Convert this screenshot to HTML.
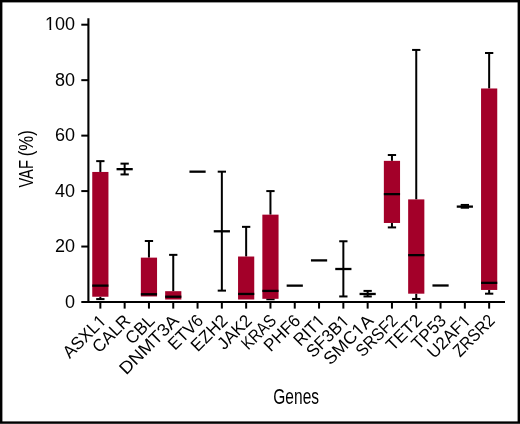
<!DOCTYPE html>
<html><head><meta charset="utf-8"><style>
html,body{margin:0;padding:0;background:#fff;}
body{width:520px;height:424px;overflow:hidden;}
svg{display:block;}
svg text{font-family:"Liberation Sans",sans-serif;fill:#000;}
.yt{font-size:18px;text-anchor:end;}
.xt{font-size:17.5px;text-anchor:end;}
.lab{font-size:21px;}
.tx{opacity:0.999;}
</style></head><body>
<svg width="520" height="424" viewBox="0 0 520 424">
<rect x="0" y="0" width="520" height="424" fill="#fff"/>
<line x1="88.4" y1="18.2" x2="88.4" y2="303.0" stroke="#000" stroke-width="2.1"/>
<line x1="81.3" y1="302.0" x2="505" y2="302.0" stroke="#000" stroke-width="2.1"/>
<line x1="81.3" y1="246.54" x2="88" y2="246.54" stroke="#000" stroke-width="2"/>
<line x1="81.3" y1="191.08" x2="88" y2="191.08" stroke="#000" stroke-width="2"/>
<line x1="81.3" y1="135.62" x2="88" y2="135.62" stroke="#000" stroke-width="2"/>
<line x1="81.3" y1="80.16" x2="88" y2="80.16" stroke="#000" stroke-width="2"/>
<line x1="81.3" y1="24.70" x2="88" y2="24.70" stroke="#000" stroke-width="2"/>
<line x1="100.35" y1="302.0" x2="100.35" y2="308.6" stroke="#000" stroke-width="2"/>
<line x1="124.65" y1="302.0" x2="124.65" y2="308.6" stroke="#000" stroke-width="2"/>
<line x1="148.95" y1="302.0" x2="148.95" y2="308.6" stroke="#000" stroke-width="2"/>
<line x1="173.25" y1="302.0" x2="173.25" y2="308.6" stroke="#000" stroke-width="2"/>
<line x1="197.55" y1="302.0" x2="197.55" y2="308.6" stroke="#000" stroke-width="2"/>
<line x1="221.85" y1="302.0" x2="221.85" y2="308.6" stroke="#000" stroke-width="2"/>
<line x1="246.15" y1="302.0" x2="246.15" y2="308.6" stroke="#000" stroke-width="2"/>
<line x1="270.45" y1="302.0" x2="270.45" y2="308.6" stroke="#000" stroke-width="2"/>
<line x1="294.75" y1="302.0" x2="294.75" y2="308.6" stroke="#000" stroke-width="2"/>
<line x1="319.05" y1="302.0" x2="319.05" y2="308.6" stroke="#000" stroke-width="2"/>
<line x1="343.35" y1="302.0" x2="343.35" y2="308.6" stroke="#000" stroke-width="2"/>
<line x1="367.65" y1="302.0" x2="367.65" y2="308.6" stroke="#000" stroke-width="2"/>
<line x1="391.95" y1="302.0" x2="391.95" y2="308.6" stroke="#000" stroke-width="2"/>
<line x1="416.25" y1="302.0" x2="416.25" y2="308.6" stroke="#000" stroke-width="2"/>
<line x1="440.55" y1="302.0" x2="440.55" y2="308.6" stroke="#000" stroke-width="2"/>
<line x1="464.85" y1="302.0" x2="464.85" y2="308.6" stroke="#000" stroke-width="2"/>
<line x1="489.15" y1="302.0" x2="489.15" y2="308.6" stroke="#000" stroke-width="2"/>
<line x1="100.35" y1="161.13" x2="100.35" y2="171.95" stroke="#000" stroke-width="2"/>
<line x1="96.20" y1="161.13" x2="104.50" y2="161.13" stroke="#000" stroke-width="2"/>
<line x1="100.35" y1="299.09" x2="100.35" y2="296.73" stroke="#000" stroke-width="2"/>
<line x1="96.20" y1="299.09" x2="104.50" y2="299.09" stroke="#000" stroke-width="2"/>
<rect x="92.25" y="171.95" width="16.2" height="124.78" fill="#a30029"/>
<line x1="92.25" y1="285.64" x2="108.45" y2="285.64" stroke="#000" stroke-width="2.3"/>
<line x1="124.65" y1="163.63" x2="124.65" y2="169.17" stroke="#000" stroke-width="2"/>
<line x1="120.50" y1="163.63" x2="128.80" y2="163.63" stroke="#000" stroke-width="2"/>
<line x1="124.65" y1="174.44" x2="124.65" y2="169.17" stroke="#000" stroke-width="2"/>
<line x1="120.50" y1="174.44" x2="128.80" y2="174.44" stroke="#000" stroke-width="2"/>
<line x1="116.55" y1="169.17" x2="132.75" y2="169.17" stroke="#000" stroke-width="2.3"/>
<line x1="148.95" y1="240.99" x2="148.95" y2="257.63" stroke="#000" stroke-width="2"/>
<line x1="144.80" y1="240.99" x2="153.10" y2="240.99" stroke="#000" stroke-width="2"/>
<rect x="140.85" y="257.63" width="16.2" height="38.82" fill="#a30029"/>
<line x1="140.85" y1="294.24" x2="157.05" y2="294.24" stroke="#000" stroke-width="2.3"/>
<line x1="173.25" y1="254.86" x2="173.25" y2="291.19" stroke="#000" stroke-width="2"/>
<line x1="169.10" y1="254.86" x2="177.40" y2="254.86" stroke="#000" stroke-width="2"/>
<rect x="165.15" y="291.19" width="16.2" height="8.32" fill="#a30029"/>
<line x1="165.15" y1="296.73" x2="181.35" y2="296.73" stroke="#000" stroke-width="2.3"/>
<line x1="189.45" y1="171.67" x2="205.65" y2="171.67" stroke="#000" stroke-width="2.3"/>
<line x1="221.85" y1="171.67" x2="221.85" y2="231.29" stroke="#000" stroke-width="2"/>
<line x1="217.70" y1="171.67" x2="226.00" y2="171.67" stroke="#000" stroke-width="2"/>
<line x1="221.85" y1="290.63" x2="221.85" y2="231.29" stroke="#000" stroke-width="2"/>
<line x1="217.70" y1="290.63" x2="226.00" y2="290.63" stroke="#000" stroke-width="2"/>
<line x1="213.75" y1="231.29" x2="229.95" y2="231.29" stroke="#000" stroke-width="2.3"/>
<line x1="246.15" y1="226.85" x2="246.15" y2="256.52" stroke="#000" stroke-width="2"/>
<line x1="242.00" y1="226.85" x2="250.30" y2="226.85" stroke="#000" stroke-width="2"/>
<rect x="238.05" y="256.52" width="16.2" height="42.98" fill="#a30029"/>
<line x1="238.05" y1="293.96" x2="254.25" y2="293.96" stroke="#000" stroke-width="2.3"/>
<line x1="270.45" y1="191.08" x2="270.45" y2="214.65" stroke="#000" stroke-width="2"/>
<line x1="266.30" y1="191.08" x2="274.60" y2="191.08" stroke="#000" stroke-width="2"/>
<line x1="270.45" y1="299.23" x2="270.45" y2="298.81" stroke="#000" stroke-width="2"/>
<line x1="266.30" y1="299.23" x2="274.60" y2="299.23" stroke="#000" stroke-width="2"/>
<rect x="262.35" y="214.65" width="16.2" height="84.16" fill="#a30029"/>
<line x1="262.35" y1="290.91" x2="278.55" y2="290.91" stroke="#000" stroke-width="2.3"/>
<line x1="286.65" y1="285.64" x2="302.85" y2="285.64" stroke="#000" stroke-width="2.3"/>
<line x1="310.95" y1="260.40" x2="327.15" y2="260.40" stroke="#000" stroke-width="2.3"/>
<line x1="343.35" y1="241.27" x2="343.35" y2="269.00" stroke="#000" stroke-width="2"/>
<line x1="339.20" y1="241.27" x2="347.50" y2="241.27" stroke="#000" stroke-width="2"/>
<line x1="343.35" y1="296.45" x2="343.35" y2="269.00" stroke="#000" stroke-width="2"/>
<line x1="339.20" y1="296.45" x2="347.50" y2="296.45" stroke="#000" stroke-width="2"/>
<line x1="335.25" y1="269.00" x2="351.45" y2="269.00" stroke="#000" stroke-width="2.3"/>
<line x1="367.65" y1="290.91" x2="367.65" y2="293.96" stroke="#000" stroke-width="2"/>
<line x1="363.50" y1="290.91" x2="371.80" y2="290.91" stroke="#000" stroke-width="2"/>
<line x1="367.65" y1="296.45" x2="367.65" y2="293.96" stroke="#000" stroke-width="2"/>
<line x1="363.50" y1="296.45" x2="371.80" y2="296.45" stroke="#000" stroke-width="2"/>
<line x1="359.55" y1="293.96" x2="375.75" y2="293.96" stroke="#000" stroke-width="2.3"/>
<line x1="391.95" y1="155.03" x2="391.95" y2="160.85" stroke="#000" stroke-width="2"/>
<line x1="387.80" y1="155.03" x2="396.10" y2="155.03" stroke="#000" stroke-width="2"/>
<line x1="391.95" y1="227.41" x2="391.95" y2="222.97" stroke="#000" stroke-width="2"/>
<line x1="387.80" y1="227.41" x2="396.10" y2="227.41" stroke="#000" stroke-width="2"/>
<rect x="383.85" y="160.85" width="16.2" height="62.12" fill="#a30029"/>
<line x1="383.85" y1="194.13" x2="400.05" y2="194.13" stroke="#000" stroke-width="2.3"/>
<line x1="416.25" y1="49.93" x2="416.25" y2="199.40" stroke="#000" stroke-width="2"/>
<line x1="412.10" y1="49.93" x2="420.40" y2="49.93" stroke="#000" stroke-width="2"/>
<line x1="416.25" y1="298.95" x2="416.25" y2="293.68" stroke="#000" stroke-width="2"/>
<line x1="412.10" y1="298.95" x2="420.40" y2="298.95" stroke="#000" stroke-width="2"/>
<rect x="408.15" y="199.40" width="16.2" height="94.28" fill="#a30029"/>
<line x1="408.15" y1="255.14" x2="424.35" y2="255.14" stroke="#000" stroke-width="2.3"/>
<line x1="432.45" y1="285.50" x2="448.65" y2="285.50" stroke="#000" stroke-width="2.3"/>
<line x1="464.85" y1="204.94" x2="464.85" y2="206.61" stroke="#000" stroke-width="2"/>
<line x1="460.70" y1="204.94" x2="469.00" y2="204.94" stroke="#000" stroke-width="2"/>
<line x1="464.85" y1="207.72" x2="464.85" y2="206.61" stroke="#000" stroke-width="2"/>
<line x1="460.70" y1="207.72" x2="469.00" y2="207.72" stroke="#000" stroke-width="2"/>
<line x1="456.75" y1="206.61" x2="472.95" y2="206.61" stroke="#000" stroke-width="2.3"/>
<line x1="489.15" y1="52.98" x2="489.15" y2="88.48" stroke="#000" stroke-width="2"/>
<line x1="485.00" y1="52.98" x2="493.30" y2="52.98" stroke="#000" stroke-width="2"/>
<line x1="489.15" y1="293.68" x2="489.15" y2="289.94" stroke="#000" stroke-width="2"/>
<line x1="485.00" y1="293.68" x2="493.30" y2="293.68" stroke="#000" stroke-width="2"/>
<rect x="481.05" y="88.48" width="16.2" height="201.46" fill="#a30029"/>
<line x1="481.05" y1="282.87" x2="497.25" y2="282.87" stroke="#000" stroke-width="2.3"/>
<g class="tx">
<text x="75.1" y="307.50" class="yt">0</text>
<text x="75.1" y="252.04" class="yt">20</text>
<text x="75.1" y="196.58" class="yt">40</text>
<text x="75.1" y="141.12" class="yt">60</text>
<text x="75.1" y="85.66" class="yt">80</text>
<text x="75.1" y="30.20" class="yt">100</text>
<text class="xt" transform="translate(102.85,317.5) rotate(-45)" x="0" y="6" textLength="52.94" lengthAdjust="spacingAndGlyphs">ASXL1</text>
<text class="xt" transform="translate(127.15,317.5) rotate(-45)" x="0" y="6" textLength="45.36" lengthAdjust="spacingAndGlyphs">CALR</text>
<text class="xt" transform="translate(151.45,317.5) rotate(-45)" x="0" y="6" textLength="33.08" lengthAdjust="spacingAndGlyphs">CBL</text>
<text class="xt" transform="translate(175.75,317.5) rotate(-45)" x="0" y="6" textLength="75.91" lengthAdjust="spacingAndGlyphs">DNMT3A</text>
<text class="xt" transform="translate(200.05,317.5) rotate(-45)" x="0" y="6" textLength="41.53" lengthAdjust="spacingAndGlyphs">ETV6</text>
<text class="xt" transform="translate(224.35,317.5) rotate(-45)" x="0" y="6" textLength="43.47" lengthAdjust="spacingAndGlyphs">EZH2</text>
<text class="xt" transform="translate(248.65,317.5) rotate(-45)" x="0" y="6" textLength="40.64" lengthAdjust="spacingAndGlyphs">JAK2</text>
<text class="xt" transform="translate(272.95,317.5) rotate(-45)" x="0" y="6" textLength="40.81" lengthAdjust="spacingAndGlyphs">KRAS</text>
<text class="xt" transform="translate(297.25,317.5) rotate(-45)" x="0" y="6" textLength="43.47" lengthAdjust="spacingAndGlyphs">PHF6</text>
<text class="xt" transform="translate(321.55,317.5) rotate(-45)" x="0" y="6" textLength="35.84" lengthAdjust="spacingAndGlyphs">RIT1</text>
<text class="xt" transform="translate(345.85,317.5) rotate(-45)" x="0" y="6" textLength="51.98" lengthAdjust="spacingAndGlyphs">SF3B1</text>
<text class="xt" transform="translate(370.15,317.5) rotate(-45)" x="0" y="6" textLength="62.08" lengthAdjust="spacingAndGlyphs">SMC1A</text>
<text class="xt" transform="translate(394.45,317.5) rotate(-45)" x="0" y="6" textLength="50.81" lengthAdjust="spacingAndGlyphs">SRSF2</text>
<text class="xt" transform="translate(418.75,317.5) rotate(-45)" x="0" y="6" textLength="42.58" lengthAdjust="spacingAndGlyphs">TET2</text>
<text class="xt" transform="translate(443.05,317.5) rotate(-45)" x="0" y="6" textLength="40.64" lengthAdjust="spacingAndGlyphs">TP53</text>
<text class="xt" transform="translate(467.35,317.5) rotate(-45)" x="0" y="6" textLength="52.92" lengthAdjust="spacingAndGlyphs">U2AF1</text>
<text class="xt" transform="translate(491.65,317.5) rotate(-45)" x="0" y="6" textLength="50.75" lengthAdjust="spacingAndGlyphs">ZRSR2</text>
<text class="lab" transform="translate(33.0,187.6) rotate(-90) scale(0.70,1)" x="0" y="0">VAF</text>
<text class="lab" transform="translate(33.0,156.3) rotate(-90) scale(0.80,1)" x="0" y="0">(%)</text>
<text class="lab" transform="translate(273.3,403.8) scale(0.681,1)" x="0" y="0" style="font-size:22.8px">Genes</text>
</g>
<g fill="#fff"><rect x="46.02" y="27.96" width="3.49" height="2.84"/><rect x="51.24" y="27.96" width="3.48" height="2.84"/></g>
<g transform="translate(102.85,317.5) rotate(-45)" fill="#fff"><rect x="-8.56" y="3.79" width="3.30" height="2.81"/><rect x="-3.62" y="3.79" width="3.29" height="2.81"/></g>
<g transform="translate(321.55,317.5) rotate(-45)" fill="#fff"><rect x="-8.32" y="3.79" width="3.21" height="2.81"/><rect x="-3.52" y="3.79" width="3.20" height="2.81"/></g>
<g transform="translate(345.85,317.5) rotate(-45)" fill="#fff"><rect x="-8.54" y="3.79" width="3.30" height="2.81"/><rect x="-3.61" y="3.79" width="3.29" height="2.81"/></g>
<g transform="translate(370.15,317.5) rotate(-45)" fill="#fff"><rect x="-21.09" y="3.79" width="3.50" height="2.81"/><rect x="-15.85" y="3.79" width="3.49" height="2.81"/></g>
<g transform="translate(467.35,317.5) rotate(-45)" fill="#fff"><rect x="-8.56" y="3.79" width="3.30" height="2.81"/><rect x="-3.62" y="3.79" width="3.29" height="2.81"/></g>
<rect x="1.2" y="1.2" width="517.6" height="421.4" fill="none" stroke="#000" stroke-width="2.4"/>
</svg>
</body></html>
